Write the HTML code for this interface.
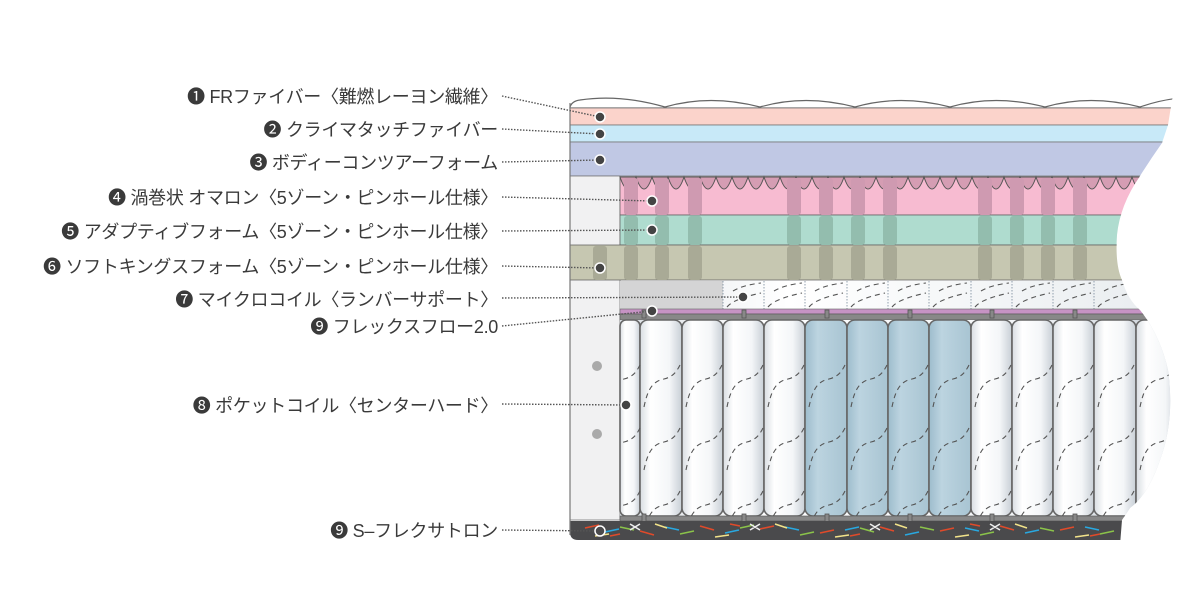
<!DOCTYPE html>
<html><head><meta charset="utf-8"><style>
html,body{margin:0;padding:0;background:#fff;width:1200px;height:600px;overflow:hidden}
svg{display:block}
.l{font-family:"Liberation Sans","Noto Sans CJK JP",sans-serif;font-size:18px;letter-spacing:-0.3px;fill:#3a3a3a;text-anchor:end}
.ld{stroke:#555;stroke-width:1.4;stroke-dasharray:1.5 1.5;fill:none}
.dot{fill:#444;stroke:#fff;stroke-width:1.5}
</style></head><body>
<svg width="1200" height="600" viewBox="0 0 1200 600" xmlns="http://www.w3.org/2000/svg">
<defs>
<clipPath id="cp"><path d="M560,90 L1175,90 L1172,100 L1168,125 L1162,143 Q1150,160 1140,176 Q1120,205 1117,235 Q1115,265 1122,280 Q1128,300 1140,310 Q1160,335 1168,370 Q1175,420 1160,460 Q1148,495 1130,508 L1122,520 L1120,545 L560,545 Z"/></clipPath>
<clipPath id="cc"><rect x="621" y="320" width="560" height="196"/></clipPath>
<linearGradient id="cw" x1="0" x2="1"><stop offset="0" stop-color="#d8dde2"/><stop offset="0.25" stop-color="#fff"/><stop offset="0.7" stop-color="#f4f6f8"/><stop offset="1" stop-color="#c8cfd6"/></linearGradient>
<linearGradient id="cb" x1="0" x2="1"><stop offset="0" stop-color="#9dbccc"/><stop offset="0.3" stop-color="#bcd4e0"/><stop offset="1" stop-color="#a8c4d2"/></linearGradient>
<linearGradient id="cs" x1="0" x2="1"><stop offset="0" stop-color="#e4e8ec"/><stop offset="0.3" stop-color="#fff"/><stop offset="1" stop-color="#e8ecef"/></linearGradient>
<g id="sp"><path d="M4,62 C8,42 14,36 24,34 C32,32 36,28 40,20 M4,125 C8,105 14,99 24,97 C32,95 36,91 40,83 M4,188 C8,168 14,162 24,160 C32,158 36,154 40,146 M24,-29 C32,-31 36,-35 40,-43" stroke="#555" stroke-width="1.1" stroke-dasharray="5 4" fill="none"/></g>
<g id="ms"><path d="M4,26 Q10,18 38,12" stroke="#555" stroke-width="1.1" stroke-dasharray="5 4" fill="none"/><path d="M10,10 Q20,4 38,2" stroke="#555" stroke-width="1.1" stroke-dasharray="5 4" fill="none"/></g>
</defs>

<g clip-path="url(#cp)">
<path d="M570,107 Q572,101 580,100 Q620,94 665,107 Q710,94 760,107 Q805,94 855,107 Q900,94 950,107 Q995,94 1045,107 Q1090,94 1140,107 Q1160,100 1180,98 L1180,108 L570,108 Z" fill="#fff" stroke="#666" stroke-width="1.2"/>
<rect x="570" y="108" width="620" height="17" fill="#fbd3cb" stroke="#777" stroke-width="0.8"/>
<rect x="570" y="125" width="620" height="17" fill="#c8e9f8" stroke="#777" stroke-width="0.8"/>
<rect x="570" y="142" width="620" height="34" fill="#c0c8e4" stroke="#777" stroke-width="0.8"/>
<rect x="570" y="176" width="50" height="344" fill="#f1f1f2" stroke="#777" stroke-width="0.8"/>
<rect x="620" y="177" width="560" height="38" fill="#f7bbd1" stroke="#666" stroke-width="0.8"/>
<g fill="#d59db3" stroke="#555" stroke-width="1">
<path d="M620,177 q8,24 16,0 q8,24 16,0 q8,24 16,0 q8,24 16,0 q8,24 16,0 q8,24 16,0 q8,24 16,0 q8,24 16,0 q8,24 16,0 q8,24 16,0 q8,24 16,0 q8,24 16,0 q8,24 16,0 q8,24 16,0 q8,24 16,0 q8,24 16,0 q8,24 16,0 q8,24 16,0 q8,24 16,0 q8,24 16,0 q8,24 16,0 q8,24 16,0 q8,24 16,0 q8,24 16,0 q8,24 16,0 q8,24 16,0 q8,24 16,0 q8,24 16,0 q8,24 16,0 q8,24 16,0 q8,24 16,0 q8,24 16,0 q8,24 16,0 q8,24 16,0 q8,24 16,0 Z"/>
</g>
<rect x="620" y="215" width="560" height="30" fill="#afdccf" stroke="#666" stroke-width="0.8"/>
<rect x="570" y="245" width="610" height="35" fill="#c6c7b1" stroke="#666" stroke-width="0.8"/>
<g>
<rect x="593" y="246" width="14" height="34" rx="3" fill="#a9aa96"/>
<g fill="#cf9ab1"><rect x="624" y="178" width="14" height="37" rx="3"/><rect x="655" y="178" width="14" height="37" rx="3"/><rect x="688" y="178" width="14" height="37" rx="3"/><rect x="787" y="178" width="14" height="37" rx="3"/><rect x="819" y="178" width="14" height="37" rx="3"/><rect x="851" y="178" width="14" height="37" rx="3"/><rect x="883" y="178" width="14" height="37" rx="3"/><rect x="978" y="178" width="14" height="37" rx="3"/><rect x="1010" y="178" width="14" height="37" rx="3"/><rect x="1041" y="178" width="14" height="37" rx="3"/><rect x="1073" y="178" width="14" height="37" rx="3"/></g>
<g fill="#93bdae"><rect x="624" y="216" width="14" height="29" rx="3"/><rect x="655" y="216" width="14" height="29" rx="3"/><rect x="688" y="216" width="14" height="29" rx="3"/><rect x="787" y="216" width="14" height="29" rx="3"/><rect x="819" y="216" width="14" height="29" rx="3"/><rect x="851" y="216" width="14" height="29" rx="3"/><rect x="883" y="216" width="14" height="29" rx="3"/><rect x="978" y="216" width="14" height="29" rx="3"/><rect x="1010" y="216" width="14" height="29" rx="3"/><rect x="1041" y="216" width="14" height="29" rx="3"/><rect x="1073" y="216" width="14" height="29" rx="3"/></g>
<g fill="#a9aa96"><rect x="624" y="246" width="14" height="34" rx="3"/><rect x="655" y="246" width="14" height="34" rx="3"/><rect x="688" y="246" width="14" height="34" rx="3"/><rect x="787" y="246" width="14" height="34" rx="3"/><rect x="819" y="246" width="14" height="34" rx="3"/><rect x="851" y="246" width="14" height="34" rx="3"/><rect x="883" y="246" width="14" height="34" rx="3"/><rect x="978" y="246" width="14" height="34" rx="3"/><rect x="1010" y="246" width="14" height="34" rx="3"/><rect x="1041" y="246" width="14" height="34" rx="3"/><rect x="1073" y="246" width="14" height="34" rx="3"/></g>
</g>
<rect x="620" y="281" width="560" height="28" fill="url(#cs)"/>
<rect x="620" y="281" width="103" height="28" fill="#d4d4d5"/>
<g stroke="#789" stroke-width="0.8" stroke-dasharray="1.5 1.5"><line x1="723" y1="281" x2="723" y2="309"/><line x1="764" y1="281" x2="764" y2="309"/><line x1="805" y1="281" x2="805" y2="309"/><line x1="847" y1="281" x2="847" y2="309"/><line x1="888" y1="281" x2="888" y2="309"/><line x1="929" y1="281" x2="929" y2="309"/><line x1="971" y1="281" x2="971" y2="309"/><line x1="1012" y1="281" x2="1012" y2="309"/><line x1="1053" y1="281" x2="1053" y2="309"/><line x1="1094" y1="281" x2="1094" y2="309"/></g>
<use href="#ms" x="723" y="281"/><use href="#ms" x="764" y="281"/><use href="#ms" x="805" y="281"/><use href="#ms" x="847" y="281"/><use href="#ms" x="888" y="281"/><use href="#ms" x="929" y="281"/><use href="#ms" x="971" y="281"/><use href="#ms" x="1012" y="281"/><use href="#ms" x="1053" y="281"/><use href="#ms" x="1094" y="281"/>
<rect x="620" y="309" width="560" height="5" fill="#c693c4" stroke="#666" stroke-width="0.6"/>
<rect x="620" y="314" width="560" height="6" fill="#888" stroke="#555" stroke-width="0.6"/>
<rect x="620" y="320" width="560" height="198" fill="url(#cw)"/>
<g stroke="#666" stroke-width="1.6">
<rect x="620" y="320" width="20" height="196" rx="6" fill="url(#cw)"/>
<rect x="640" y="320" width="42" height="196" rx="8" fill="url(#cw)"/>
<rect x="682" y="320" width="41" height="196" rx="8" fill="url(#cw)"/>
<rect x="723" y="320" width="41" height="196" rx="8" fill="url(#cw)"/>
<rect x="764" y="320" width="41" height="196" rx="8" fill="url(#cw)"/>
<rect x="805" y="320" width="42" height="196" rx="8" fill="url(#cb)"/>
<rect x="847" y="320" width="41" height="196" rx="8" fill="url(#cb)"/>
<rect x="888" y="320" width="41" height="196" rx="8" fill="url(#cb)"/>
<rect x="929" y="320" width="42" height="196" rx="8" fill="url(#cb)"/>
<rect x="971" y="320" width="41" height="196" rx="8" fill="url(#cw)"/>
<rect x="1012" y="320" width="41" height="196" rx="8" fill="url(#cw)"/>
<rect x="1053" y="320" width="41" height="196" rx="8" fill="url(#cw)"/>
<rect x="1094" y="320" width="42" height="196" rx="8" fill="url(#cw)"/>
<rect x="1136" y="320" width="42" height="196" rx="8" fill="url(#cw)"/>
</g>
<g clip-path="url(#cc)">
<use href="#sp" x="600" y="345"/><use href="#sp" x="640" y="345"/><use href="#sp" x="682" y="345"/><use href="#sp" x="723" y="345"/><use href="#sp" x="764" y="345"/><use href="#sp" x="805" y="345"/><use href="#sp" x="847" y="345"/><use href="#sp" x="888" y="345"/><use href="#sp" x="929" y="345"/><use href="#sp" x="971" y="345"/><use href="#sp" x="1012" y="345"/><use href="#sp" x="1053" y="345"/><use href="#sp" x="1094" y="345"/><use href="#sp" x="1136" y="345"/>
</g>
<rect x="620" y="516" width="560" height="5" fill="#888" stroke="#555" stroke-width="0.6"/>
<g fill="#888" stroke="#555" stroke-width="0.8"><rect x="642" y="310" width="4" height="8"/><rect x="742" y="310" width="4" height="8"/><rect x="825" y="310" width="4" height="8"/><rect x="908" y="310" width="4" height="8"/><rect x="990" y="310" width="4" height="8"/><rect x="1073" y="310" width="4" height="8"/><rect x="642" y="514" width="4" height="8"/><rect x="742" y="514" width="4" height="8"/><rect x="825" y="514" width="4" height="8"/><rect x="908" y="514" width="4" height="8"/><rect x="990" y="514" width="4" height="8"/><rect x="1073" y="514" width="4" height="8"/></g>
<path d="M570,521 L1180,521 L1180,540 L578,540 Q570,540 570,532 Z" fill="#4a4a4c"/>
<g stroke-width="1.6">
<path d="M585,528 l14,-3 M640,531 l14,4 M700,526 l14,4 M760,529 l14,-3 M820,533 l14,-3 M880,527 l14,4 M940,531 l14,-3 M1000,526 l14,4 M1060,530 l14,-3 M610,536 l10,-2 M730,524 l10,2 M850,536 l10,-2 M970,524 l10,2 M1090,536 l10,-2" stroke="#e04a2a"/>
<path d="M605,532 l14,-3 M665,527 l14,3 M725,533 l14,-3 M785,527 l14,3 M845,530 l14,-3 M905,535 l14,-3 M965,528 l14,3 M1025,533 l14,-3 M1085,527 l14,3" stroke="#29a8e0"/>
<path d="M620,527 l14,3 M680,534 l14,-3 M740,528 l14,-3 M800,535 l14,-3 M860,528 l14,4 M920,527 l14,3 M980,535 l14,-3 M1040,528 l14,3 M1100,534 l14,-3" stroke="#8bc34a"/>
<path d="M595,536 l14,-2 M655,524 l12,4 M715,537 l14,-2 M775,524 l12,4 M835,537 l14,-2 M895,524 l12,4 M955,537 l14,-2 M1015,524 l12,4 M1075,537 l14,-2" stroke="#f2e38a"/>
<path d="M630,524 l10,6 M630,530 l10,-6 M750,524 l10,6 M750,530 l10,-6 M870,524 l10,6 M870,530 l10,-6 M990,524 l10,6 M990,530 l10,-6" stroke="#eee"/>
</g>
</g>
<line x1="570" y1="103" x2="570" y2="535" stroke="#777" stroke-width="1.2"/>

<g class="ld">
<path d="M502,96 L600,117"/><path d="M502,129 L600,134"/><path d="M502,162 L600,160"/>
<path d="M502,197 L652,201"/><path d="M502,231 L652,230"/><path d="M502,266 L600,268"/>
<path d="M502,298 L743,297"/><path d="M502,326 L652,311"/><path d="M502,404 L626,405"/><path d="M502,530 L600,531"/>
</g>
<g class="dot">
<circle cx="600" cy="117" r="5"/><circle cx="600" cy="134" r="5"/><circle cx="600" cy="160" r="5"/>
<circle cx="652" cy="201" r="5"/><circle cx="652" cy="230" r="5"/><circle cx="600" cy="268" r="5"/>
<circle cx="743" cy="297" r="5"/><circle cx="652" cy="311" r="5"/><circle cx="626" cy="405" r="5"/>
<circle cx="600" cy="531" r="5" fill="#4a4a4c"/>
</g>
<g fill="#aaa"><circle cx="597" cy="366" r="5"/><circle cx="597" cy="434" r="5"/></g>

<g class="l">
<text x="498" y="103">❶ FRファイバー〈難燃レーヨン繊維〉</text>
<text x="498" y="136">❷ クライマタッチファイバー</text>
<text x="498" y="169">❸ ボディーコンツアーフォーム</text>
<text x="498" y="204">❹ 渦巻状 オマロン〈5ゾーン・ピンホール仕様〉</text>
<text x="498" y="238">❺ アダプティブフォーム〈5ゾーン・ピンホール仕様〉</text>
<text x="498" y="273">❻ ソフトキングスフォーム〈5ゾーン・ピンホール仕様〉</text>
<text x="498" y="306">❼ マイクロコイル〈ランバーサポート〉</text>
<text x="498" y="333">❾ フレックスフロー2.0</text>
<text x="498" y="412">❽ ポケットコイル〈センターハード〉</text>
<text x="498" y="537">❾ S–フレクサトロン</text>
</g>
</svg>
</body></html>
